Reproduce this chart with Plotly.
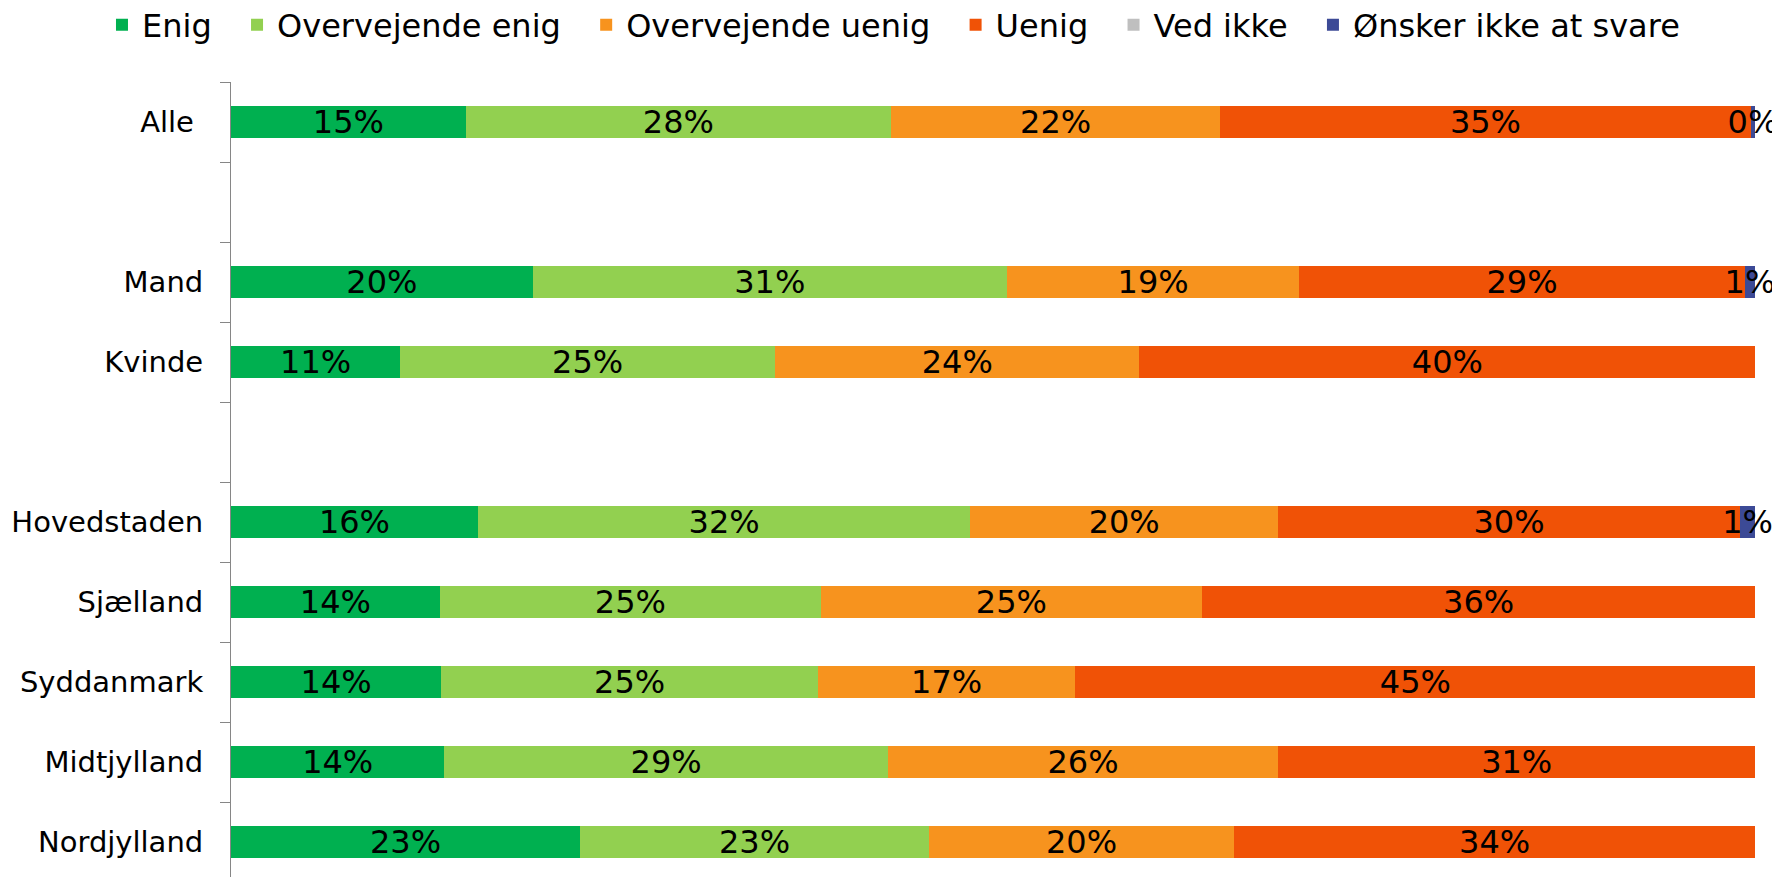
"""
Stacked 100% bar chart: agreement by gender and region.
"""
from __future__ import annotations

from typing import List, Optional

import plotly.graph_objects as go

# ---------------------------------------------------------------------------
# Data
# ---------------------------------------------------------------------------

CATEGORIES = [
    "Alle\u00a0", "\u00a0", "Mand", "Kvinde", "\u00a0\u00a0",
    "Hovedstaden", "Sjælland", "Syddanmark", "Midtjylland", "Nordjylland",
]

ENIG = [15.4, None, 19.8, 11.1, None, 16.2, 13.7, 13.8, 14.0, 22.9]
OVERVEJENDE_ENIG = [27.9, None, 31.1, 24.6, None, 32.3, 25.0, 24.7, 29.1, 22.9]
OVERVEJENDE_UENIG = [21.6, None, 19.2, 23.9, None, 20.2, 25.0, 16.9, 25.6, 20.0]
UENIG = [34.8, None, 29.2, 40.4, None, 30.3, 36.3, 44.6, 31.3, 34.2]
VED_IKKE = [0, None, 0, 0, None, 0, 0, 0, 0, 0]
OENSKER_IKKE = [0.3, None, 0.7, 0, None, 1.0, 0, 0, 0, 0]

SERIES = [
    ("Enig", ENIG, "#00B050"),
    ("Overvejende enig", OVERVEJENDE_ENIG, "#92D050"),
    ("Overvejende uenig", OVERVEJENDE_UENIG, "#F7931E"),
    ("Uenig", UENIG, "#F05206"),
    ("Ved ikke", VED_IKKE, "#BFBFBF"),
    ("Ønsker ikke at svare", OENSKER_IKKE, "#3C4A96"),
]

FONT = "DejaVu Sans, Verdana, sans-serif"

# the page body adds an 8px offset, so the figure is shrunk by that much
WIDTH, HEIGHT = 1772, 869


def pct_labels(values: List[Optional[float]]) -> List[str]:
    """Rounded percentage labels; empty for zero / missing."""
    return [f"{round(v)}%" if v else "" for v in values]


def build_figure() -> go.Figure:
    fig = go.Figure()
    last = len(SERIES) - 1
    for i, (name, values, color) in enumerate(SERIES):
        # a little padding after each legend entry, like the original
        legend_name = name if i == last else name + "\u00a0\u00a0"
        fig.add_trace(
            go.Bar(
                name=legend_name,
                y=CATEGORIES,
                x=values,
                orientation="h",
                width=0.4,
                marker=dict(color=color, line=dict(width=0)),
                text=pct_labels(values),
                textposition="inside",
                insidetextanchor="middle",
                textangle=0,
                insidetextfont=dict(family=FONT, size=32, color="black"),
                cliponaxis=False,
                hovertemplate="%{y}: %{x:.1f}%<extra>" + name + "</extra>",
            )
        )

    fig.update_layout(
        barmode="stack",
        width=WIDTH,
        height=HEIGHT,
        margin=dict(t=74, b=0, l=223, r=24, autoexpand=False),
        paper_bgcolor="white",
        plot_bgcolor="white",
        font=dict(family=FONT, color="black"),
        uniformtext=dict(minsize=32, mode="show"),
        legend=dict(
            orientation="h",
            xref="paper",
            yref="paper",
            x=-0.0846,
            xanchor="left",
            y=1.0717,
            yanchor="middle",
            font=dict(size=32),
            traceorder="normal",
        ),
        showlegend=True,
    )
    fig.update_xaxes(
        range=[0, 100.05],
        visible=False,
        showgrid=False,
        zeroline=False,
    )
    fig.update_yaxes(
        type="category",
        categoryorder="array",
        categoryarray=CATEGORIES,
        range=[9.4375, -0.5],
        tickson="boundaries",
        ticks="outside",
        ticklen=10,
        tickcolor="#868686",
        showline=True,
        linecolor="#868686",
        linewidth=1,
        showgrid=False,
        zeroline=False,
        automargin=False,
        ticklabelstandoff=21,
        tickfont=dict(size=29, color="black"),
    )
    return fig


fig = build_figure()
fig.write_html("out.html")
